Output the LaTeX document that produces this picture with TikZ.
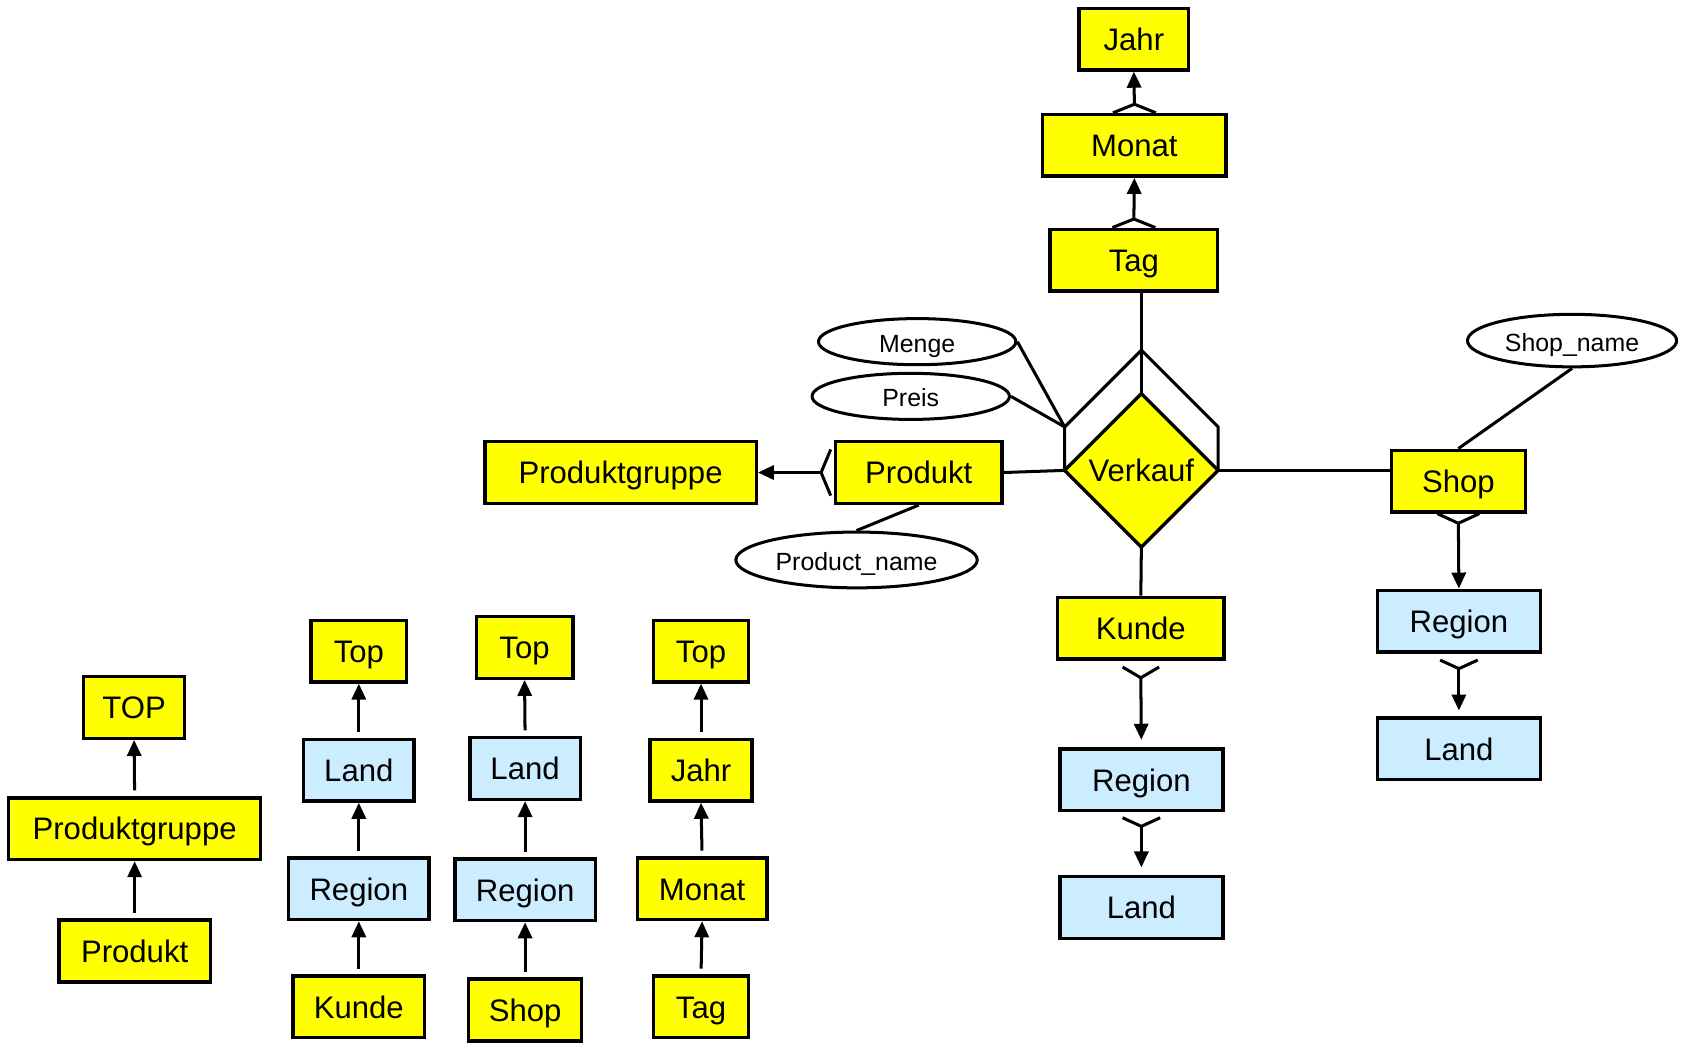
\documentclass[tikz,border=0pt]{standalone}
\usepackage{fontspec}
\setmainfont{Liberation Sans}
\usetikzlibrary{shapes.geometric, arrows.meta}
\definecolor{erdgelb}{RGB}{255,255,0}
\definecolor{erdblau}{RGB}{204,236,255}

\begin{document}
\begin{tikzpicture}[
  gelb/.style={draw, line width=1.8pt, fill=erdgelb, minimum height=1.15cm,
               inner sep=0pt, text height=12.4pt, text depth=0.4pt, font=\fontsize{16.5}{19}\selectfont},
  blau/.style={gelb, fill=erdblau},
  attr/.style={draw, ellipse, line width=1.6pt, fill=white, inner sep=0pt,
               text height=11.4pt, text depth=0.3pt, font=\fontsize{13.2}{16}\selectfont},
  rel/.style={draw, diamond, line width=1.8pt, fill=erdgelb, minimum width=2.86cm,
              minimum height=2.86cm, inner sep=0pt, outer sep=0pt, font=\fontsize{16.5}{19}\selectfont},
  lin/.style={line width=1.6pt},
  arr/.style={lin, -{Triangle[length=8.5pt, width=7.5pt]}},
]
\useasboundingbox (0,0) rectangle (31.36,-19.46);

% Zeit-Hierarchie oben
\node[gelb, minimum width=2.04cm] (jahr)  at (21.14,-0.73) {Jahr};
\node[gelb, minimum width=3.42cm] (monat) at (21.15,-2.71) {Monat};
\node[gelb, minimum width=3.12cm] (tag)   at (21.14,-4.85) {Tag};

% Faktum Verkauf mit Attributen
\node[rel] (verkauf) at (21.28,-8.77) {Verkauf};
\node[attr, minimum width=3.68cm, minimum height=0.86cm] (menge) at (17.10,-6.37) {Menge};
\node[attr, minimum width=3.68cm, minimum height=0.86cm] (preis) at (16.98,-7.39) {Preis};

% Produkt
\node[gelb, minimum width=3.10cm] (produkt) at (17.13,-8.81) {Produkt};
\node[gelb, minimum width=5.06cm] (pgruppe) at (11.57,-8.81) {Produktgruppe};
\node[attr, minimum width=4.5cm, minimum height=1.04cm] (pname) at (15.97,-10.44) {Product\_name};

% Shop
\node[gelb, minimum width=2.5cm] (shop) at (27.19,-8.97) {Shop};
\node[attr, minimum width=3.9cm, minimum height=0.98cm] (sname) at (29.31,-6.35) {Shop\_name};
\node[blau, minimum width=3.04cm] (sregion) at (27.2,-11.58) {Region};
\node[blau, minimum width=3.04cm] (sland)   at (27.2,-13.96) {Land};

% Kunde
\node[gelb, minimum width=3.10cm] (kunde)   at (21.27,-11.71) {Kunde};
\node[blau, minimum width=3.04cm] (kregion) at (21.28,-14.54) {Region};
\node[blau, minimum width=3.04cm] (kland)   at (21.28,-16.92) {Land};

% Dach ueber Verkauf
\draw[lin] (verkauf.west) -- ++(0,0.81) coordinate (roofl) -- ++(1.43,1.43)
  -- ++(1.43,-1.43) -- (verkauf.east);
\draw[lin] (tag.south -| verkauf.north) -- (verkauf.north);
\draw[lin] (menge.east) -- (roofl);
\draw[lin] (preis.east) -- (roofl);

% Zeit: Tag -> Monat -> Jahr
\draw[lin] ([xshift=-0.4cm]monat.north) -- ([yshift=0.16cm]monat.north) -- ([xshift=0.4cm]monat.north);
\draw[arr] ([yshift=0.16cm]monat.north) -- (jahr.south);
\draw[lin] ([xshift=-0.4cm]tag.north) -- ([yshift=0.16cm]tag.north) -- ([xshift=0.4cm]tag.north);
\draw[arr] ([yshift=0.16cm]tag.north) -- (monat.south);

% Produkt -> Produktgruppe
\draw[lin] (produkt.east) -- (verkauf.west);
\draw[lin] ([xshift=-0.06cm, yshift=0.43cm]produkt.west) -- ([xshift=-0.24cm]produkt.west)
  -- ([xshift=-0.06cm, yshift=-0.43cm]produkt.west);
\draw[arr] ([xshift=-0.24cm]produkt.west) -- (pgruppe.east);
\draw[lin] (pname.north) -- (produkt.south);

% Shop -> Region -> Land
\draw[lin] (verkauf.east) -- (verkauf.east -| shop.west);
\draw[lin] (sname.south) -- (shop.north);
\draw[lin] ([xshift=-0.39cm]shop.south) -- ([yshift=-0.18cm]shop.south) -- ([xshift=0.39cm]shop.south);
\draw[arr] ([yshift=-0.18cm]shop.south) -- (sregion.north);
\draw[lin] ([xshift=-0.35cm, yshift=-0.12cm]sregion.south) -- ([yshift=-0.28cm]sregion.south)
  -- ([xshift=0.35cm, yshift=-0.12cm]sregion.south);
\draw[arr, shorten >=3pt] ([yshift=-0.28cm]sregion.south) -- (sland.north);

% Kunde -> Region -> Land
\draw[lin] (verkauf.south) -- (kunde.north);
\draw[lin] ([xshift=-0.34cm, yshift=-0.12cm]kunde.south) -- ([yshift=-0.32cm]kunde.south)
  -- ([xshift=0.34cm, yshift=-0.12cm]kunde.south);
\draw[arr, shorten >=4pt] ([yshift=-0.32cm]kunde.south) -- (kregion.north);
\draw[lin] ([xshift=-0.35cm, yshift=-0.1cm]kregion.south) -- ([yshift=-0.26cm]kregion.south)
  -- ([xshift=0.35cm, yshift=-0.1cm]kregion.south);
\draw[arr, shorten >=4pt] ([yshift=-0.26cm]kregion.south) -- (kland.north);

% Hierarchien unten
\node[gelb, minimum width=1.88cm] (top1) at (2.50,-13.19) {TOP};
\node[gelb, minimum width=4.70cm] (pg1)  at (2.51,-15.45) {Produktgruppe};
\node[gelb, minimum width=2.82cm] (p1)   at (2.51,-17.73) {Produkt};

\node[gelb, minimum width=1.78cm] (top2) at (6.69,-12.14) {Top};
\node[blau, minimum width=2.06cm] (l2)   at (6.69,-14.36) {Land};
\node[blau, minimum width=2.62cm] (r2)   at (6.69,-16.57) {Region};
\node[gelb, minimum width=2.46cm] (k2)   at (6.69,-18.77) {Kunde};

\node[gelb, minimum width=1.80cm] (top3) at (9.78,-12.07) {Top};
\node[blau, minimum width=2.06cm] (l3)   at (9.79,-14.33) {Land};
\node[blau, minimum width=2.62cm] (r3)   at (9.79,-16.59) {Region};
\node[gelb, minimum width=2.10cm] (s3)   at (9.79,-18.83) {Shop};

\node[gelb, minimum width=1.78cm] (top4) at (13.07,-12.14) {Top};
\node[gelb, minimum width=1.90cm] (j4)   at (13.07,-14.36) {Jahr};
\node[gelb, minimum width=2.42cm] (m4)   at (13.09,-16.57) {Monat};
\node[gelb, minimum width=1.78cm] (t4)   at (13.07,-18.77) {Tag};

\draw[arr, shorten <=3pt] (p1.north) -- (pg1.south);
\draw[arr, shorten <=3pt] (pg1.north) -- (top1.south);
\draw[arr, shorten <=3pt] (k2.north) -- (r2.south);
\draw[arr, shorten <=3pt] (r2.north) -- (l2.south);
\draw[arr, shorten <=3pt] (l2.north) -- (top2.south);
\draw[arr, shorten <=3pt] (s3.north) -- (r3.south);
\draw[arr, shorten <=3pt] (r3.north) -- (l3.south);
\draw[arr, shorten <=3pt] (l3.north) -- (top3.south);
\draw[arr, shorten <=3pt] (t4.north) -- (m4.south);
\draw[arr, shorten <=3pt] (m4.north) -- (j4.south);
\draw[arr, shorten <=3pt] (j4.north) -- (top4.south);

\end{tikzpicture}
\end{document}
